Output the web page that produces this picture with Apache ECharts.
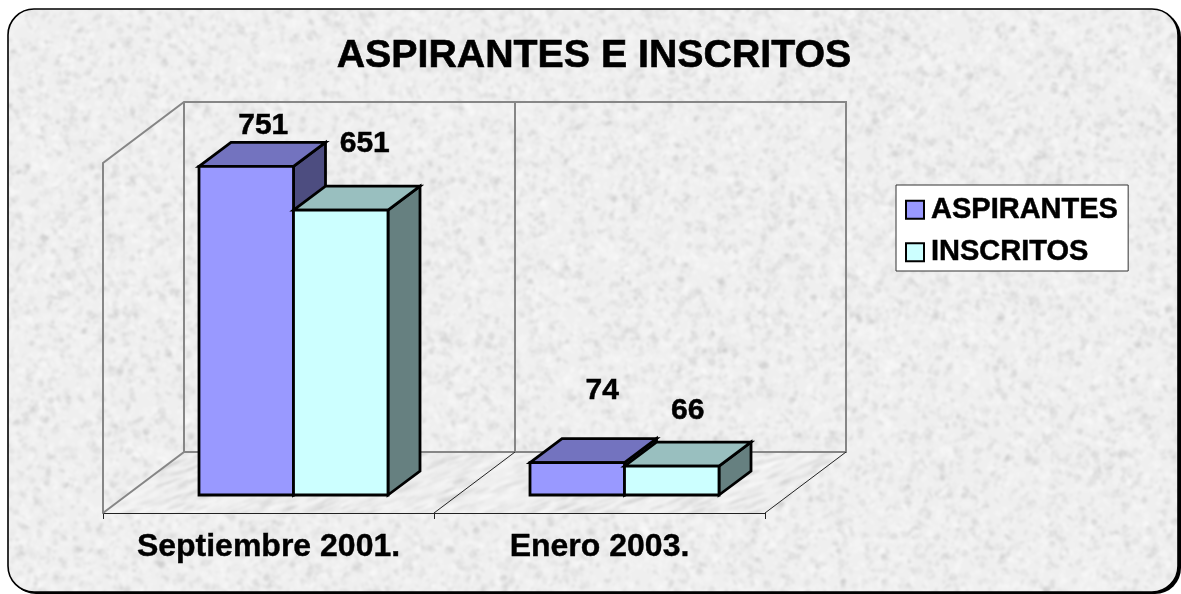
<!DOCTYPE html>
<html>
<head>
<meta charset="utf-8">
<style>html,body{margin:0;padding:0;background:#fff}#c{width:1181px;height:594px}</style>
<script src="https://cdn.jsdelivr.net/npm/echarts@6/dist/echarts.min.js"></script>
</head>
<body>
<div id="c"></div>
<script>
const titleText = 'ASPIRANTES E INSCRITOS';
const categories = ['Septiembre 2001.', 'Enero 2003.'];
const aspirantes = [751, 74];
const inscritos = [651, 66];
const yMax = 800;

// ---- decoration: seeded granite texture (background only, carries no data)
function makeTexture(size, streak, seed) {
  let s = seed;
  const rnd = () => (s = (s * 1664525 + 1013904223) >>> 0) / 4294967296;
  const cv = document.createElement('canvas');
  cv.width = cv.height = size;
  const g = cv.getContext('2d');
  g.fillStyle = '#efefef';
  g.fillRect(0, 0, size, size);
  const n = size * size / 22;
  for (let i = 0; i < n; i++) {
    const x = rnd() * size, y = rnd() * size;
    const dark = rnd() < 0.42;
    const a = 0.04 + rnd() * 0.1;
    g.fillStyle = dark ? 'rgba(150,150,150,' + a + ')' : 'rgba(255,255,255,' + (a * 2.2) + ')';
    g.beginPath();
    if (streak) g.ellipse(x, y, 6 + rnd() * 7, 1 + rnd() * 1.1, -0.35, 0, 7);
    else g.ellipse(x, y, 1.2 + rnd() * 3, 1.2 + rnd() * 3, rnd() * 3, 0, 7);
    g.fill();
  }
  const out = document.createElement('canvas');
  out.width = out.height = size;
  const o = out.getContext('2d');
  o.filter = 'blur(1.2px)';
  o.drawImage(cv, 0, 0);
  return out;
}
const texBase = makeTexture(1200, false, 12345);
const texFloor = makeTexture(1200, true, 6789);

// ---- 3D projection styling (screen offsets)
const depthWall = [81, -61];
const barFront = [25, -18];
const barDepth = [32, -24];
const barWidthFrac = 94.5 / 331;
const labelShift = { ASPIRANTES: [[17, -41], [25, -72]], INSCRITOS: [[24, -66], [16, -55]] };
const faces = {
  ASPIRANTES: { front: '#9999FF', top: '#7373BF', side: '#4D4D80' },
  INSCRITOS: { front: '#CCFFFF', top: '#99BFBF', side: '#668080' }
};
const edge = { stroke: '#000', lineWidth: 2.8, lineJoin: 'miter' };
const fontFamily = '"Liberation Sans", Arial, sans-serif';

function poly(points, fill) {
  return { type: 'polygon', shape: { points }, style: Object.assign({ fill }, edge) };
}

function barRenderer(name, order) {
  return function (params, api) {
    const idx = api.value(0);
    const band = api.size([1, 0])[0];
    const w = band * barWidthFrac;
    const base = api.coord([idx, 0]);
    const top = api.coord([idx, api.value(1)]);
    const x0 = base[0] + barFront[0] + (order - 1) * w;
    const x1 = x0 + w;
    const yb = base[1] + barFront[1];
    const yt = top[1] + barFront[1];
    const [dx, dy] = barDepth;
    const c = faces[name];
    const sh = labelShift[name][idx];
    return {
      type: 'group',
      children: [
        poly([[x1, yb], [x1 + dx, yb + dy], [x1 + dx, yt + dy], [x1, yt]], c.side),
        poly([[x0, yt], [x0 + dx, yt + dy], [x1 + dx, yt + dy], [x1, yt]], c.top),
        poly([[x0, yb], [x1, yb], [x1, yt], [x0, yt]], c.front),
        {
          type: 'text',
          z2: 50,
          style: {
            text: String(api.value(1)),
            x: (x0 + x1) / 2 + sh[0],
            y: yt + sh[1],
            fill: '#000',
            stroke: '#000',
            lineWidth: 0.5,
            font: 'bold 30px ' + fontFamily,
            textAlign: 'center',
            textVerticalAlign: 'middle'
          }
        }
      ]
    };
  };
}

function wallRenderer(params, api) {
  const band = api.size([1, 0])[0];
  const l = api.coord([0, 0])[0] - band / 2;
  const m = l + band;
  const r = m + band;
  const yb = api.coord([0, 0])[1];
  const yt = api.coord([0, yMax])[1];
  const [dx, dy] = depthWall;
  const gray = { stroke: '#868686', lineWidth: 2, fill: null };
  const thin = { stroke: '#222', lineWidth: 1, fill: null };
  const line = (pts, st) => ({ type: 'polyline', shape: { points: pts }, style: st });
  return {
    type: 'group',
    children: [
      { type: 'polygon', shape: { points: [[l, yb], [l + dx, yb + dy], [r + dx, yb + dy], [r, yb]] },
        style: { fill: { image: texFloor, repeat: 'repeat' } } },
      line([[l, yb], [l, yt], [l + dx, yt + dy], [r + dx, yt + dy], [r + dx, yb + dy], [l + dx, yb + dy]], gray),
      line([[l + dx, yt + dy], [l + dx, yb + dy], [l, yb]], gray),
      line([[m + dx, yt + dy], [m + dx, yb + dy]], gray),
      line([[m, yb], [m + dx, yb + dy]], thin),
      line([[r, yb], [r + dx, yb + dy]], thin)
    ]
  };
}

const chart = echarts.init(document.getElementById('c'), null, { renderer: 'canvas' });
chart.setOption({
  animation: false,
  backgroundColor: '#fff',
  graphic: [
    { type: 'rect', z: -11, silent: true,
      shape: { x: 10, y: 11, width: 1171, height: 583, r: 26 }, style: { fill: '#000' } },
    { type: 'rect', z: -10, silent: true,
      shape: { x: 8, y: 9, width: 1170, height: 583, r: 26 },
      style: { fill: { image: texBase, repeat: 'repeat' }, stroke: '#000', lineWidth: 1.6 } }
  ],
  title: {
    text: titleText, left: 589, top: 51, textAlign: 'center', textVerticalAlign: 'middle',
    textStyle: { fontFamily, fontWeight: 'bold', fontSize: 39.3, color: '#000', textBorderColor: '#000', textBorderWidth: 0.6 }
  },
  legend: {
    orient: 'vertical', left: 896, top: 185, icon: 'rect',
    data: ['ASPIRANTES', 'INSCRITOS'],
    itemWidth: 18, itemHeight: 18, itemGap: 13,
    padding: [10, 10, 4, 9],
    backgroundColor: '#fff', borderColor: '#333', borderWidth: 1,
    selectedMode: false,
    itemStyle: { borderColor: '#000', borderWidth: 2 },
    textStyle: { fontFamily, fontWeight: 'bold', fontSize: 29, color: '#000', padding: [0, 0, 0, 2], textBorderColor: '#000', textBorderWidth: 0.5 }
  },
  grid: { left: 103, right: 416, top: 163, bottom: 81 },
  xAxis: {
    type: 'category', data: categories, boundaryGap: true,
    axisLine: { show: true, lineStyle: { color: '#222', width: 1 } },
    axisTick: { show: true, length: 6, lineStyle: { color: '#222', width: 1 } },
    axisLabel: { interval: 0, hideOverlap: false, margin: 18, color: '#000', fontFamily, fontWeight: 'bold', fontSize: 32, textBorderColor: '#000', textBorderWidth: 0.4 },
    splitLine: { show: false }
  },
  yAxis: { type: 'value', min: 0, max: yMax, interval: yMax, show: false, splitLine: { show: false } },
  series: [
    { type: 'custom', name: 'walls', silent: true, clip: false, z: 1, renderItem: wallRenderer,
      data: [[0, 0]], encode: { x: 0, y: 1 } },
    { type: 'custom', name: 'ASPIRANTES', clip: false, z: 3, renderItem: barRenderer('ASPIRANTES', 0),
      itemStyle: { color: faces.ASPIRANTES.front },
      data: aspirantes.map((v, i) => [i, v]), encode: { x: 0, y: 1 } },
    { type: 'custom', name: 'INSCRITOS', clip: false, z: 4, renderItem: barRenderer('INSCRITOS', 1),
      itemStyle: { color: faces.INSCRITOS.front },
      data: inscritos.map((v, i) => [i, v]), encode: { x: 0, y: 1 } }
  ]
});
</script>
</body>
</html>
